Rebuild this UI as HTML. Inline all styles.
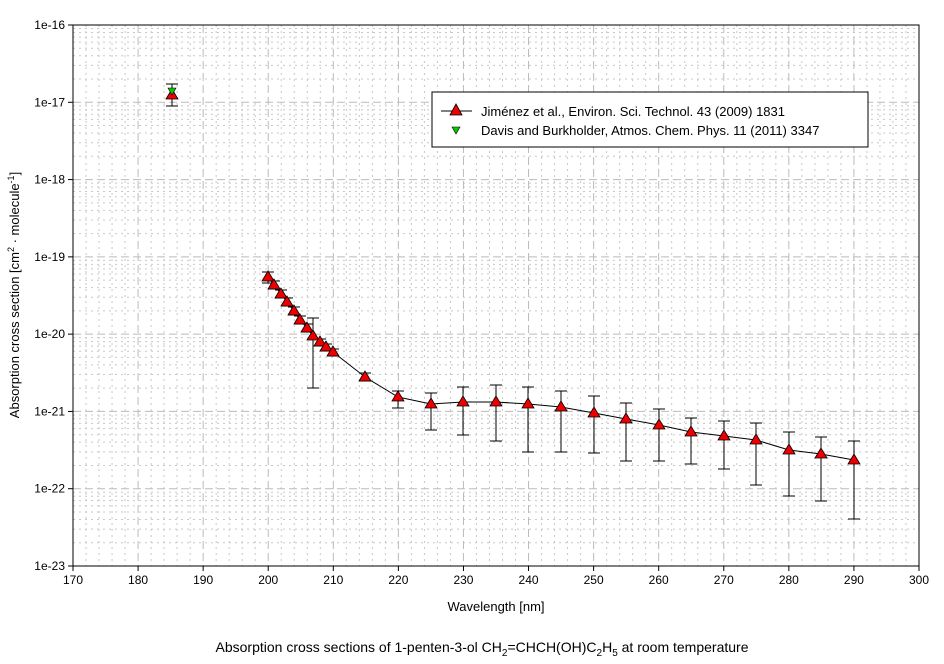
<!DOCTYPE html>
<html><head><meta charset="utf-8"><style>
body{margin:0;background:#fff;}
svg{display:block;font-family:"Liberation Sans",sans-serif;}
</style></head><body>
<svg id="s" width="944" height="664" xmlns="http://www.w3.org/2000/svg">
<g id="grid"></g>
<rect x="73" y="25" width="846" height="541" fill="none" stroke="#000" stroke-width="1"/>
<g id="ticks" font-size="12" fill="#000"></g>
<g id="data"></g>
<rect x="432" y="92" width="436" height="55" fill="#fff" stroke="#000"/>
<line x1="441" y1="111" x2="472" y2="111" stroke="#000"/>
<polygon points="456,104 450,115 462,115" fill="#e00" stroke="#000" stroke-width="0.8"/>
<text x="481" y="116" font-size="13">Jiménez et al., Environ. Sci. Technol. 43 (2009) 1831</text>
<polygon points="452,127 460,127 456,134" fill="#0c0" stroke="#000" stroke-width="0.6"/>
<text x="481" y="135" font-size="13">Davis and Burkholder, Atmos. Chem. Phys. 11 (2011) 3347</text>
<text x="496" y="611" font-size="13" text-anchor="middle">Wavelength [nm]</text>
<text transform="translate(19,295) rotate(-90)" font-size="13" text-anchor="middle">Absorption cross section [cm<tspan font-size="9" dy="-5">2</tspan><tspan dy="5"> · molecule</tspan><tspan font-size="9" dy="-5">-1</tspan><tspan dy="5">]</tspan></text>
<text x="482" y="652" font-size="14" text-anchor="middle">Absorption cross sections of 1-penten-3-ol CH<tspan font-size="10" dy="4">2</tspan><tspan dy="-4">=CHCH(OH)C</tspan><tspan font-size="10" dy="4">2</tspan><tspan dy="-4">H</tspan><tspan font-size="10" dy="4">5</tspan><tspan dy="-4"> at room temperature</tspan></text>
</svg>
<script>
var NS="http://www.w3.org/2000/svg";
function el(p,t,a,txt){var e=document.createElementNS(NS,t);for(var k in a)e.setAttribute(k,a[k]);if(txt!=null)e.textContent=txt;document.getElementById(p).appendChild(e);return e;}
var X0=73,X1=919,Y0=25,Y1=566;
function xp(w){return X0+(w-170)*(X1-X0)/130;}
function yp(e){return Y1-(e+23)*(Y1-Y0)/7;}
for(var w=172;w<300;w+=2){if(w%10==0)continue;el("grid","line",{x1:xp(w),x2:xp(w),y1:Y0,y2:Y1,stroke:"#c8c8c8","stroke-dasharray":"2,4"});}
for(var d=-23;d<-16;d++)for(var m=2;m<10;m++){var y=yp(d+Math.log10(m));el("grid","line",{x1:X0,x2:X1,y1:y,y2:y,stroke:"#c8c8c8","stroke-dasharray":"2,4"});}
for(var w=180;w<300;w+=10)el("grid","line",{x1:xp(w),x2:xp(w),y1:Y0,y2:Y1,stroke:"#bbb","stroke-dasharray":"8,4"});
for(var d=-22;d<-16;d++)el("grid","line",{x1:X0,x2:X1,y1:yp(d),y2:yp(d),stroke:"#bbb","stroke-dasharray":"8,4"});
for(var w=170;w<=300;w+=10){el("ticks","line",{x1:xp(w),x2:xp(w),y1:Y1,y2:Y1+5,stroke:"#000"});el("ticks","text",{x:xp(w),y:Y1+18,"text-anchor":"middle"},w);}
for(var d=-23;d<=-16;d++){el("ticks","line",{x1:X0-5,x2:X0,y1:yp(d),y2:yp(d),stroke:"#000"});el("ticks","text",{x:X0-8,y:yp(d)+4,"text-anchor":"end"},"1e"+d);}
var P=[[268,277,272,283],[274,285,281,289],[281,294,290,298],[287,302,298,306],[294,311,307,315],[300,320,316,324],[307,328,324,332],[313,336,318,388],[320,342,339,346],[326,347,344,351],[333,352,349,356],[365,377,373,381],[398,397,391,408],[431,404,393,430],[463,402,387,435],[496,402,385,441],[528,404,387,452],[561,407,391,452],[594,413,396,453],[626,419,403,461],[659,425,409,461],[691,432,418,464],[724,436,421,469],[756,440,423,485],[789,450,432,496],[821,454,437,501],[854,460,441,519]];
var s="";P.forEach(function(p,i){s+=(i?"L":"M")+p[0]+","+p[1];});
el("data","path",{d:s,fill:"none",stroke:"#000"});
function eb(x,a,b){el("data","line",{x1:x,x2:x,y1:a,y2:b,stroke:"#000"});el("data","line",{x1:x-6,x2:x+6,y1:a,y2:a,stroke:"#000"});el("data","line",{x1:x-6,x2:x+6,y1:b,y2:b,stroke:"#000"});}
P.forEach(function(p){eb(p[0],p[2],p[3]);});
eb(172,84,106);
P.forEach(function(p){el("data","polygon",{points:(p[0])+","+(p[1]-6)+" "+(p[0]-6)+","+(p[1]+4)+" "+(p[0]+6)+","+(p[1]+4),fill:"#e00",stroke:"#000","stroke-width":0.8});});
el("data","polygon",{points:"172,89 166,99 178,99",fill:"#e00",stroke:"#000","stroke-width":0.8});
el("data","polygon",{points:"168,88 176,88 172,95",fill:"#0c0",stroke:"#000","stroke-width":0.6});
</script>
</body></html>
